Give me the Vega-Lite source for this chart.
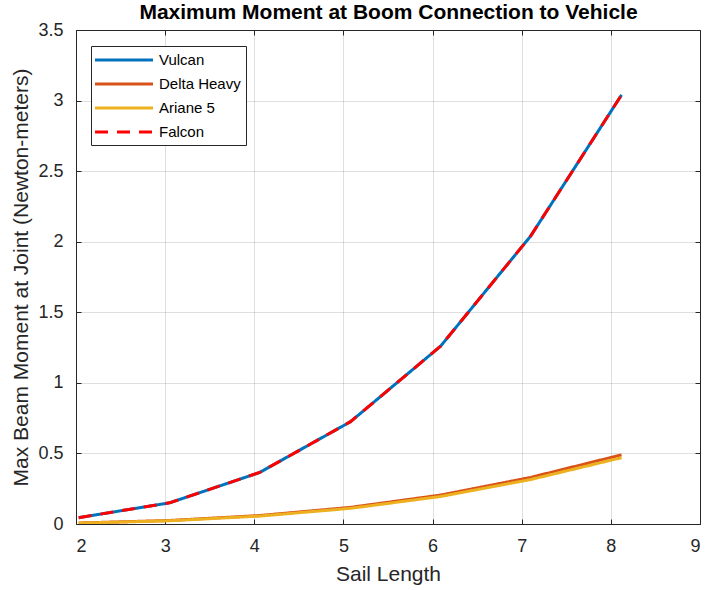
{
  "$schema": "https://vega.github.io/schema/vega-lite/v6.json",
  "width": 624,
  "height": 494,
  "autosize": {"type": "none"},
  "padding": {"left": 76, "top": 30, "right": 6, "bottom": 66},
  "config": {
    "view": {"stroke": "#262626", "strokeWidth": 1},
    "font": "Liberation Sans"
  },
  "data": {
    "values": [
      {"series": "Vulcan", "x": 2.03, "y": 0.045},
      {"series": "Vulcan", "x": 3.05, "y": 0.15},
      {"series": "Vulcan", "x": 4.06, "y": 0.365},
      {"series": "Vulcan", "x": 5.08, "y": 0.725},
      {"series": "Vulcan", "x": 6.09, "y": 1.26},
      {"series": "Vulcan", "x": 7.1, "y": 2.04},
      {"series": "Vulcan", "x": 8.12, "y": 3.04},
      {"series": "Delta Heavy", "x": 2.03, "y": 0.007},
      {"series": "Delta Heavy", "x": 3.05, "y": 0.025},
      {"series": "Delta Heavy", "x": 4.06, "y": 0.06},
      {"series": "Delta Heavy", "x": 5.08, "y": 0.118},
      {"series": "Delta Heavy", "x": 6.09, "y": 0.205},
      {"series": "Delta Heavy", "x": 7.1, "y": 0.33},
      {"series": "Delta Heavy", "x": 8.12, "y": 0.49},
      {"series": "Ariane 5", "x": 2.03, "y": 0.006},
      {"series": "Ariane 5", "x": 3.05, "y": 0.023},
      {"series": "Ariane 5", "x": 4.06, "y": 0.056},
      {"series": "Ariane 5", "x": 5.08, "y": 0.111},
      {"series": "Ariane 5", "x": 6.09, "y": 0.195},
      {"series": "Ariane 5", "x": 7.1, "y": 0.315},
      {"series": "Ariane 5", "x": 8.12, "y": 0.47},
      {"series": "Falcon", "x": 2.03, "y": 0.045},
      {"series": "Falcon", "x": 3.05, "y": 0.15},
      {"series": "Falcon", "x": 4.06, "y": 0.365},
      {"series": "Falcon", "x": 5.08, "y": 0.725},
      {"series": "Falcon", "x": 6.09, "y": 1.26},
      {"series": "Falcon", "x": 7.1, "y": 2.04},
      {"series": "Falcon", "x": 8.12, "y": 3.04}
    ]
  },
  "layer": [
    {
      "mark": {"type": "line", "strokeWidth": 3, "clip": true},
      "encoding": {
        "x": {
          "field": "x",
          "type": "quantitative",
          "scale": {"domain": [2, 9], "nice": false, "zero": false},
          "axis": {
            "title": "Sail Length",
            "values": [2, 3, 4, 5, 6, 7, 8, 9],
            "format": "~g",
            "domain": false,
            "tickSize": -5,
            "tickColor": "#262626",
            "labelPadding": 18,
            "labelFont": "Liberation Sans",
            "labelFontSize": 18,
            "labelColor": "#262626",
            "titleFont": "Liberation Sans",
            "titleFontSize": 21,
            "titleFontWeight": "normal",
            "titleColor": "#262626",
            "titlePadding": 8,
            "grid": true,
            "gridColor": "#262626",
            "gridOpacity": 0.15
          }
        },
        "y": {
          "field": "y",
          "type": "quantitative",
          "scale": {"domain": [0, 3.5], "nice": false},
          "axis": {
            "title": "Max Beam Moment at Joint (Newton-meters)",
            "values": [0, 0.5, 1, 1.5, 2, 2.5, 3, 3.5],
            "format": "~g",
            "domain": false,
            "tickSize": -5,
            "tickColor": "#262626",
            "labelPadding": 18,
            "labelFont": "Liberation Sans",
            "labelFontSize": 18,
            "labelColor": "#262626",
            "titleFont": "Liberation Sans",
            "titleFontSize": 21,
            "titleFontWeight": "normal",
            "titleColor": "#262626",
            "titlePadding": 6,
            "grid": true,
            "gridColor": "#262626",
            "gridOpacity": 0.15
          }
        },
        "color": {
          "field": "series",
          "type": "nominal",
          "sort": ["Vulcan", "Delta Heavy", "Ariane 5", "Falcon"],
          "scale": {
            "domain": ["Vulcan", "Delta Heavy", "Ariane 5", "Falcon"],
            "range": ["#0072BD", "#D95319", "#EDB120", "#FF0000"]
          },
          "legend": {
            "title": null,
            "orient": "none",
            "legendX": 15,
            "legendY": 16,
            "strokeColor": "#262626",
            "fillColor": "#ffffff",
            "padding": 5,
            "cornerRadius": 0,
            "symbolType": "M-4,0H4",
            "symbolSize": 210,
            "symbolStrokeWidth": 3,
            "symbolOffset": 19,
            "labelFont": "Liberation Sans",
            "labelFontSize": 15,
            "labelColor": "#000000",
            "labelOffset": 26,
            "rowPadding": 7
          }
        },
        "strokeDash": {
          "field": "series",
          "type": "nominal",
          "sort": ["Vulcan", "Delta Heavy", "Ariane 5", "Falcon"],
          "scale": {
            "domain": ["Vulcan", "Delta Heavy", "Ariane 5", "Falcon"],
            "range": [[1, 0], [1, 0], [1, 0], [13, 9]]
          },
          "legend": {
            "title": null,
            "orient": "none",
            "legendX": 15,
            "legendY": 16,
            "strokeColor": "#262626",
            "fillColor": "#ffffff",
            "padding": 5,
            "cornerRadius": 0,
            "symbolType": "M-4,0H4",
            "symbolSize": 210,
            "symbolStrokeWidth": 3,
            "symbolOffset": 19,
            "labelFont": "Liberation Sans",
            "labelFontSize": 15,
            "labelColor": "#000000",
            "labelOffset": 26,
            "rowPadding": 7
          }
        }
      }
    },
    {
      "mark": {"type": "line", "opacity": 0},
      "encoding": {
        "x": {
          "field": "x",
          "type": "quantitative",
          "scale": {"domain": [2, 9], "nice": false, "zero": false},
          "axis": {
            "orient": "top",
            "title": "Maximum Moment at Boom Connection to Vehicle",
            "titleFont": "Liberation Sans",
            "titleFontSize": 21,
            "titleFontWeight": "bold",
            "titleColor": "#000000",
            "titlePadding": 7,
            "values": [2, 3, 4, 5, 6, 7, 8, 9],
            "labels": false,
            "domain": false,
            "grid": false,
            "tickSize": -5,
            "tickColor": "#262626"
          }
        },
        "y": {
          "field": "y",
          "type": "quantitative",
          "scale": {"domain": [0, 3.5], "nice": false},
          "axis": {
            "orient": "right",
            "title": null,
            "values": [0, 0.5, 1, 1.5, 2, 2.5, 3, 3.5],
            "labels": false,
            "domain": false,
            "grid": false,
            "tickSize": -5,
            "tickColor": "#262626"
          }
        },
        "detail": {"field": "series", "type": "nominal"}
      }
    }
  ],
  "resolve": {"axis": {"x": "independent", "y": "independent"}}
}
